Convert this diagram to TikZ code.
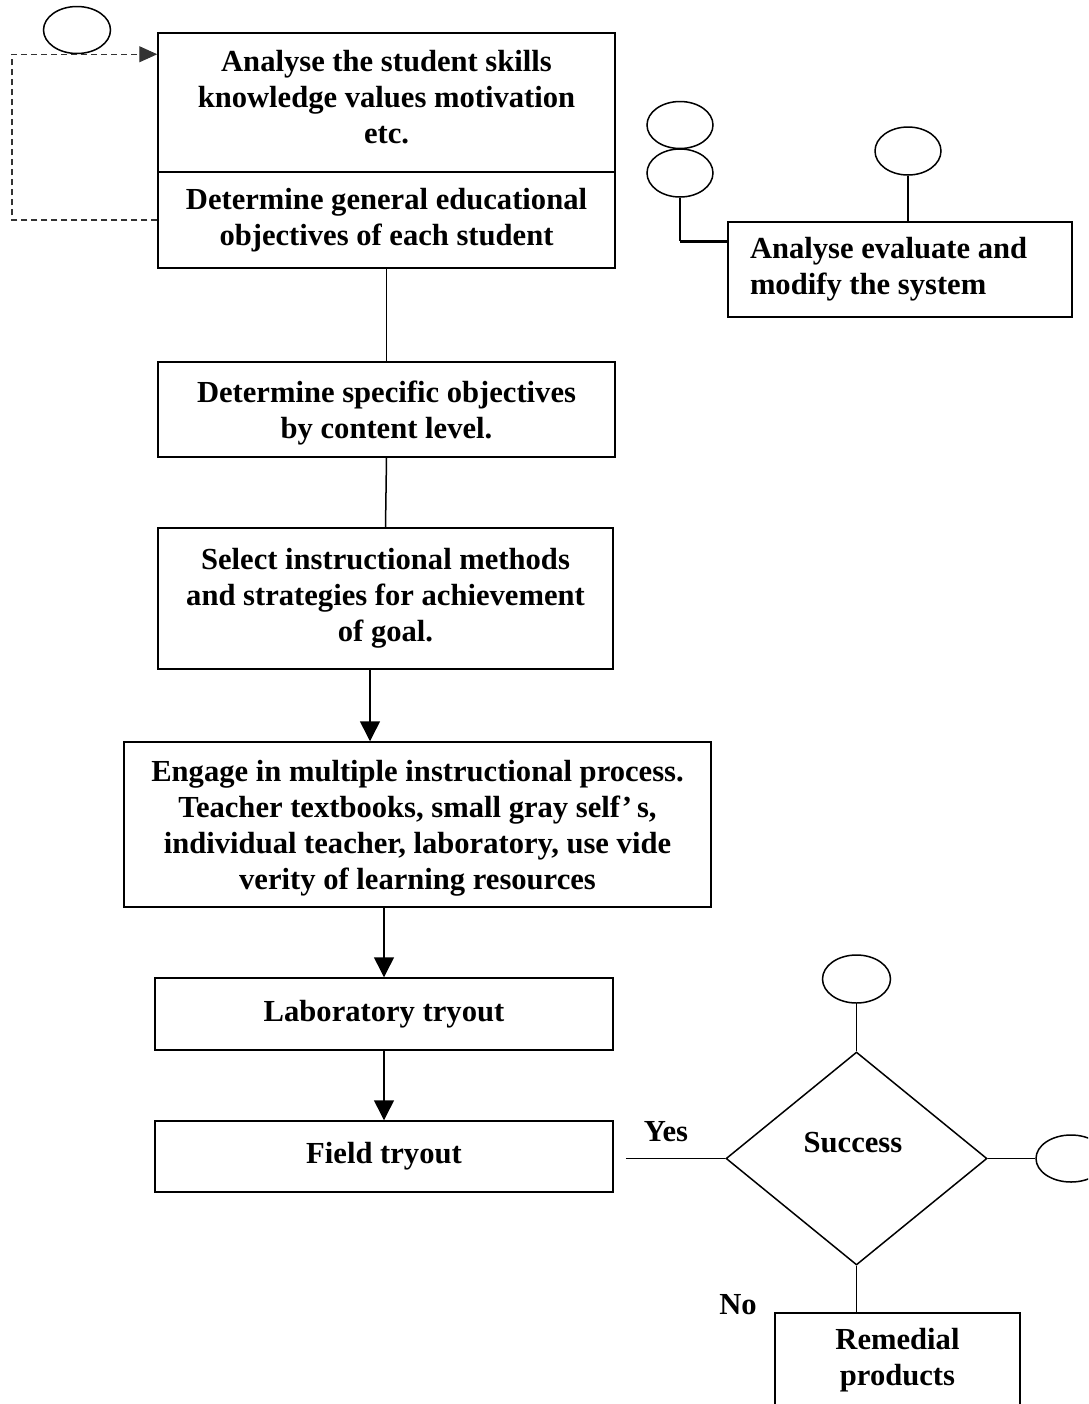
\documentclass[tikz,border=0pt]{standalone}
\usepackage{fontspec}
\setmainfont{Liberation Serif}
\usetikzlibrary{arrows.meta,shapes.geometric,calc}
\tikzset{
  box/.style={draw, line width=0.75pt, inner sep=0pt, align=center,
    font=\fontsize{15.3pt}{18pt}\selectfont\bfseries},
  bubble/.style={draw, ellipse, line width=0.75pt, inner sep=0pt,
    minimum width=33pt, minimum height=23.5pt},
  link/.style={line width=0.75pt},
  arr/.style={line width=0.75pt, -{Triangle[width=10pt,length=10pt]}},
  loopline/.style={line width=0.55pt, black!80, densely dashed,
    -{Triangle[width=8pt,length=9pt]}},
  lbl/.style={font=\fontsize{15.3pt}{18pt}\selectfont\bfseries, inner sep=0pt}
}
\begin{document}
\begin{tikzpicture}[x=0.5pt,y=-0.5pt]
\useasboundingbox (0,0) rectangle (1088,1404);
\clip (0,0) rectangle (1088,1404);

% main column of steps
\node[box, minimum width=228.5pt, minimum height=69.5pt] (box1a) at (386.5,102.5)
  {Analyse the student skills\\knowledge values motivation\\etc.\rule[-6pt]{0pt}{1pt}};
\node[box, minimum width=228.5pt, minimum height=48pt] (box1b) at (386.5,220)
  {Determine general educational\\objectives of each student};
\node[box, minimum width=228.5pt, minimum height=47.5pt] (box2) at (386.5,409.5)
  {\rule{0pt}{14pt}Determine specific objectives\\by content level.};
\node[box, minimum width=227.5pt, minimum height=70.5pt] (box3) at (385.5,598.5)
  {Select instructional methods\\and strategies for achievement\\of goal.};
\node[box, minimum width=293.5pt, minimum height=82.5pt] (box4) at (417.5,824.5)
  {\rule{0pt}{14pt}Engage in multiple instructional process.\\Teacher textbooks, small gray self'\,s,\\individual teacher, laboratory, use vide\\verity of learning resources};
\node[box, minimum width=229pt, minimum height=36pt] (box5) at (384,1014)
  {Laboratory tryout};
\node[box, minimum width=229pt, minimum height=35.5pt] (box6) at (384,1156.5)
  {Field tryout};

% evaluation box
\node[box, minimum width=172pt, minimum height=47.5pt, align=flush left,
  text width=150pt, inner xsep=11pt] (eval) at (900,269.5)
  {Analyse evaluate and\\modify the system};

% decision and remedial step
\node[draw, diamond, line width=0.75pt, inner sep=0pt,
  minimum width=130.5pt, minimum height=106.5pt] (dia) at (856.5,1158.5) {};
\node[lbl] (succ) at (853,1143) {Success};
\node[box, minimum width=122.5pt, minimum height=47pt] (rem) at (897.5,1360)
  {Remedial\\products};

% connector bubbles
\node[bubble, minimum width=33.5pt] (e0) at (77,30) {};
\node[bubble] (e1) at (680,125) {};
\node[bubble, minimum height=24pt] (e2) at (680,173) {};
\node[bubble, minimum height=24pt] (e3) at (908,151) {};
\node[bubble, minimum width=34pt, minimum height=24pt] (e4) at (856.5,979) {};
\node[bubble, minimum width=35pt] (e5) at (1071,1158.5) {};

% feedback loop on the left
\coordinate (lc) at (12,0);
\draw[loopline] (box1b.west) -- (lc |- box1b.west) -- (lc |- e0.south)
  -- (box1a.west |- e0.south);

% links down the column
\draw[link] (box1b.south) -- (box2.north);
\draw[link] (box2.south) -- (box3.north);
\draw[arr] ([xshift=-7.75pt]box3.south) -- ([xshift=-7.75pt]box3.south |- box4.north);
\draw[arr] (box5.north |- box4.south) -- (box5.north);
\draw[arr] (box5.south) -- (box6.north);

% links of the evaluation box
\coordinate (ej) at ([yshift=-10pt]eval.north west);
\draw[link] (e2.south) -- (e2.south |- ej);
\draw[line width=1.5pt] (e2.south |- ej) -- (ej);
\draw[link] (e3.south) -- (e3.south |- eval.north);

% links of the decision
\draw[link] ([xshift=6pt]box6.east |- dia.west) -- (dia.west);
\draw[link] (e4.south) -- (dia.north);
\draw[link] (dia.east) -- (e5.west);
\draw[link] (dia.south) -- (dia.south |- rem.north);
\node[lbl] (yes) at (666,1132) {Yes};
\node[lbl] (no) at (738,1305) {No};
\end{tikzpicture}
\end{document}
